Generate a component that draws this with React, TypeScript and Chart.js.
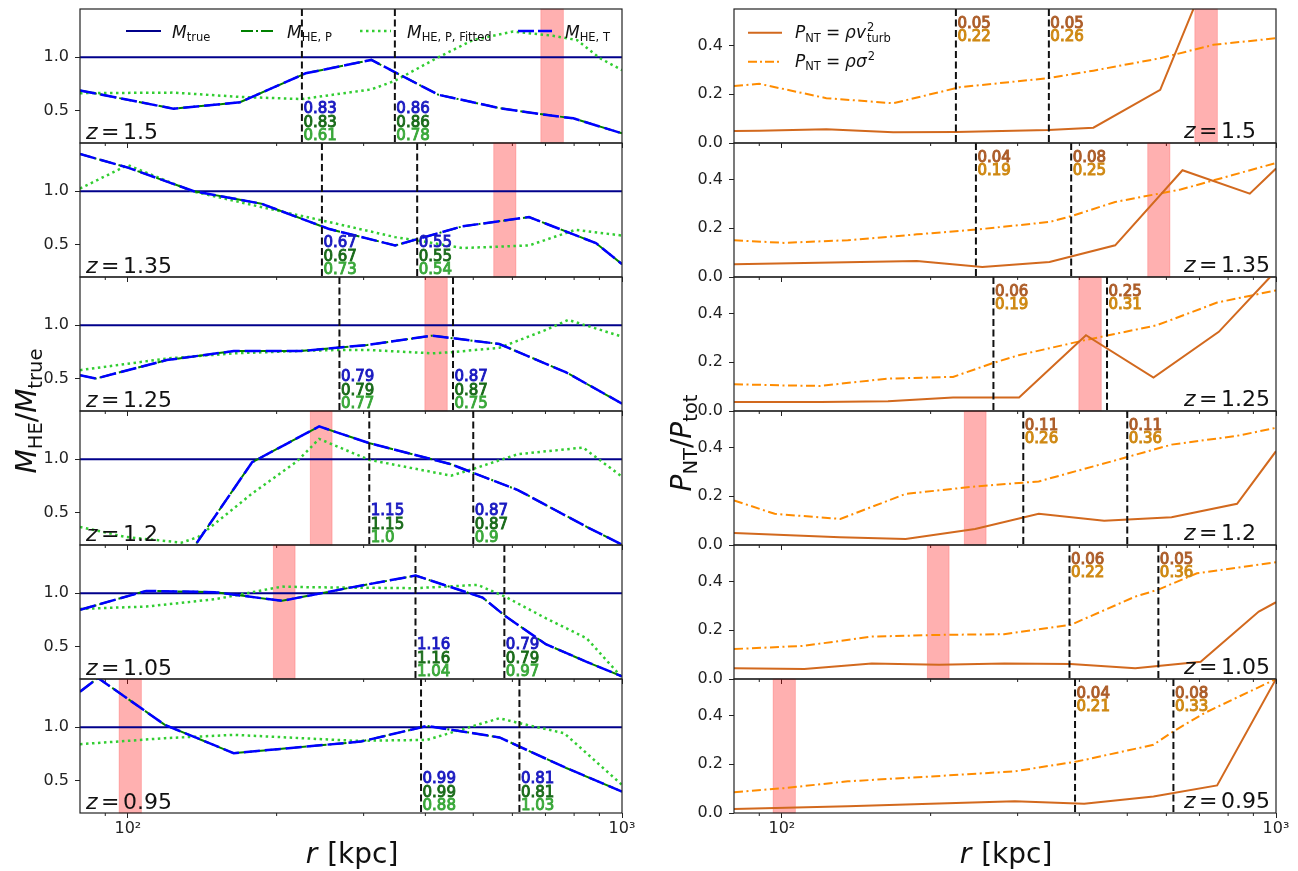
import React, { useEffect, useRef } from 'react';
import { Chart, registerables } from 'chart.js';

Chart.register(...registerables);

const FAMILY = '"DejaVu Sans", "Liberation Sans", sans-serif';

// ---------------- data ----------------
const REDSHIFTS = ['1.5', '1.35', '1.25', '1.2', '1.05', '0.95'];
const R_RANGE = [80, 1000];
const X_TICKS = [100, 1000];
const X_TICK_LABELS = ['10²', '10³'];
const X_MINOR_TICKS = [90, 200, 300, 400, 500, 600, 700, 800, 900];
const MASS_RANGE = [0.2, 1.45];
const MASS_TICKS = [0.5, 1.0];
const PNT_RANGE = [0, 0.55];
const PNT_TICKS = [0, 0.2, 0.4];
const M_TRUE = [[80, 1], [1000, 1]];

// characteristic radii (dashed lines) and shaded bands per redshift
const R_MARKERS = [[225, 347], [247, 385], [268, 455], [308, 500], [382, 578], [392, 620]];
const R_BANDS = [[685, 761], [550, 610], [399, 443], [234, 259], [197, 218], [96, 106.5]];

// annotation values: [M_HE,T, M_HE,P, M_HE,P,Fitted] at each marker
const MASS_LABELS = [
  [['0.83', '0.83', '0.61'], ['0.86', '0.86', '0.78']],
  [['0.67', '0.67', '0.73'], ['0.55', '0.55', '0.54']],
  [['0.79', '0.79', '0.77'], ['0.87', '0.87', '0.75']],
  [['1.15', '1.15', '1.0'], ['0.87', '0.87', '0.9']],
  [['1.16', '1.16', '1.04'], ['0.79', '0.79', '0.97']],
  [['0.99', '0.99', '0.88'], ['0.81', '0.81', '1.03']],
];
// annotation values: [rho v_turb^2, rho sigma^2] at each marker
const PNT_LABELS = [
  [['0.05', '0.22'], ['0.05', '0.26']],
  [['0.04', '0.19'], ['0.08', '0.25']],
  [['0.06', '0.19'], ['0.25', '0.31']],
  [['0.11', '0.26'], ['0.11', '0.36']],
  [['0.06', '0.22'], ['0.05', '0.36']],
  [['0.04', '0.21'], ['0.08', '0.33']],
];

// M_HE / M_true  (M_HE,T and M_HE,P coincide)
const MHE_Z150 = [[80, 0.69], [123.6, 0.52], [168.6, 0.58], [229, 0.85], [311, 0.975], [425, 0.65], [566, 0.525], [682, 0.47], [797, 0.43], [1000, 0.29]];
const MHE_Z135 = [[80, 1.347], [100, 1.22], [136, 1.0], [186.3, 0.884], [254.5, 0.65], [347.5, 0.494], [474.9, 0.672], [648.3, 0.759], [885.6, 0.516], [1000, 0.32]];
const MHE_Z125 = [[80, 0.534], [86.2, 0.503], [119.8, 0.675], [163.7, 0.759], [223.5, 0.759], [305.2, 0.816], [413.2, 0.903], [564.6, 0.825], [771, 0.56], [1000, 0.269]];
const MHE_Z120 = [[130.5, 0.06], [178.4, 0.972], [243.8, 1.306], [307.9, 1.15], [450.7, 0.953], [615.6, 0.7125], [848.4, 0.369], [1000, 0.203]];
const MHE_Z105 = [[80, 0.845], [108.9, 1.022], [150, 1.01], [205, 0.929], [280, 1.05], [382.3, 1.165], [522.2, 0.96], [579.4, 0.79], [701, 0.525], [848, 0.36], [1000, 0.224]];
const MHE_Z095 = [[80, 1.332], [87, 1.46], [118.8, 1.022], [163.7, 0.758], [296, 0.866], [403, 1.012], [565, 0.905], [771, 0.62], [1000, 0.40]];

// M_HE,P,Fitted / M_true
const FIT_Z150 = [[80, 0.665], [123.6, 0.67], [168.6, 0.63], [225, 0.61], [311, 0.70], [347, 0.78], [425, 1.0], [499, 1.16], [602, 1.24], [725, 1.2], [811, 1.16], [903, 0.99], [1000, 0.88]];
const FIT_Z135 = [[80, 1.025], [100, 1.244], [135, 1.0], [186, 0.853], [247, 0.728], [347.5, 0.572], [386, 0.54], [475, 0.47], [648, 0.494], [805, 0.64], [1000, 0.587]];
const FIT_Z125 = [[80, 0.581], [120, 0.69], [164, 0.738], [223, 0.76], [268, 0.77], [305, 0.77], [413, 0.738], [455, 0.75], [565, 0.79], [701, 0.956], [778, 1.05], [1000, 0.894]];
const FIT_Z120 = [[80, 0.369], [99, 0.275], [128.4, 0.222], [138.8, 0.275], [178.4, 0.68], [219.6, 0.978], [243.8, 1.19], [308, 0.994], [450.7, 0.847], [500, 0.91], [615.6, 1.047], [834, 1.109], [1000, 0.8375]];
const FIT_Z105 = [[80, 0.854], [109, 0.876], [150, 0.944], [205, 1.062], [235, 1.056], [382, 1.047], [510, 1.078], [579, 0.97], [701, 0.767], [848, 0.58], [1000, 0.214]];
const FIT_Z095 = [[80, 0.842], [119, 0.898], [164, 0.929], [290, 0.873], [403, 0.882], [565, 1.084], [621, 1.037], [764, 0.944], [1000, 0.463]];

// P_NT / P_tot with P_NT = rho v_turb^2
const TURB_Z150 = [[80, 0.049], [90, 0.05], [123, 0.056], [168, 0.044], [225, 0.045], [346, 0.053], [427, 0.063], [583, 0.218], [790, 0.87], [1000, 0.95]];
const TURB_Z135 = [[80, 0.052], [187.5, 0.066], [254.4, 0.041], [348, 0.062], [472.6, 0.13], [646.7, 0.438], [885, 0.342], [1000, 0.445]];
const TURB_Z125 = [[80, 0.037], [120, 0.037], [164, 0.04], [222, 0.055], [302, 0.055], [412.5, 0.311], [565, 0.137], [766, 0.325], [971, 0.548], [1000, 0.58]];
const TURB_Z120 = [[80, 0.049], [131, 0.032], [178, 0.025], [246, 0.066], [331, 0.128], [449, 0.10], [614.6, 0.114], [834, 0.169], [1000, 0.385]];
const TURB_Z105 = [[80, 0.044], [111, 0.041], [152, 0.064], [208, 0.058], [282, 0.064], [384, 0.062], [519, 0.044], [704, 0.071], [923, 0.277], [1000, 0.315]];
const TURB_Z095 = [[80, 0.016], [136, 0.028], [200, 0.038], [296, 0.048], [409, 0.038], [565, 0.068], [760, 0.113], [1000, 0.55]];

// P_NT / P_tot with P_NT = rho sigma^2
const SIG_Z150 = [[80, 0.234], [90, 0.243], [123, 0.184], [168, 0.163], [229, 0.229], [346, 0.266], [427, 0.297], [583, 0.348], [747, 0.403], [1000, 0.43]];
const SIG_Z135 = [[80, 0.151], [101, 0.14], [136, 0.151], [187.5, 0.175], [247, 0.1945], [348, 0.226], [384, 0.249], [472.6, 0.308], [641, 0.359], [1000, 0.468]];
const SIG_Z125 = [[80, 0.11], [101, 0.105], [119.6, 0.103], [163.7, 0.133], [222, 0.14], [267.7, 0.197], [301.5, 0.229], [409, 0.29], [574, 0.352], [760, 0.445], [1000, 0.495]];
const SIG_Z120 = [[80, 0.183], [96.7, 0.128], [131.3, 0.107], [178.2, 0.21], [245.9, 0.24], [331, 0.261], [500, 0.361], [614.6, 0.412], [834, 0.448], [1000, 0.481]];
const SIG_Z105 = [[80, 0.123], [110.8, 0.136], [151.6, 0.174], [207.6, 0.181], [281.6, 0.184], [384, 0.222], [518.7, 0.338], [576, 0.366], [692, 0.434], [1000, 0.479]];
const SIG_Z095 = [[80, 0.085], [101, 0.102], [136, 0.13], [200.6, 0.15], [296, 0.171], [397, 0.212], [565, 0.28], [620, 0.335], [716, 0.41], [1000, 0.55]];

const MHE_ROWS = [MHE_Z150, MHE_Z135, MHE_Z125, MHE_Z120, MHE_Z105, MHE_Z095];
const FIT_ROWS = [FIT_Z150, FIT_Z135, FIT_Z125, FIT_Z120, FIT_Z105, FIT_Z095];
const TURB_ROWS = [TURB_Z150, TURB_Z135, TURB_Z125, TURB_Z120, TURB_Z105, TURB_Z095];
const SIG_ROWS = [SIG_Z150, SIG_Z135, SIG_Z125, SIG_Z120, SIG_Z105, SIG_Z095];

// ---------------- layout / style ----------------
const PANEL_TOP = 9;
const PANEL_H = 134;
const PLOT_W = 542;
const PAD_TOP = 6;
const PAD_RIGHT = 20;
const COLS = [
  { canvasLeft: 0, axisW: 80 },
  { canvasLeft: 650, axisW: 84 },
];

const C_TRUE = '#00008b';
const C_HEP = '#008000';
const C_FIT = '#32cd32';
const C_HET = '#0000ff';
const C_TURB = '#d2691e';
const C_SIG = '#ff8c00';
const MASS_LABEL_COLORS = ['#1a1ac0', '#1a6b1a', '#3aa83a'];
const PNT_LABEL_COLORS = ['#ad5e2a', '#cf8914'];

type Seg = { t: string; s: number; i?: boolean; dy?: number; g?: number; k?: boolean };

function fontOf(s: Seg) {
  return `${s.i ? 'italic ' : ''}${s.s}px ${FAMILY}`;
}
function richWidth(ctx: CanvasRenderingContext2D, segs: Seg[]) {
  let w = 0;
  for (const s of segs) {
    ctx.font = fontOf(s);
    const sw = ctx.measureText(s.t).width + (s.g || 0);
    if (!s.k) w += sw;
  }
  return w;
}
function drawRich(ctx: CanvasRenderingContext2D, x: number, y: number, segs: Seg[], color: string) {
  let cx = x;
  ctx.fillStyle = color;
  ctx.textAlign = 'left';
  ctx.textBaseline = 'alphabetic';
  for (const s of segs) {
    ctx.font = fontOf(s);
    const g = s.g || 0;
    ctx.fillText(s.t, cx + g, y + (s.dy || 0));
    const w = ctx.measureText(s.t).width + g;
    if (!s.k) cx += w;
  }
  return cx - x;
}

const pts = (arr: number[][]) => arr.map(([x, y]) => ({ x, y }));

function hline(ctx: CanvasRenderingContext2D, x0: number, y0: number, x1: number, y1: number) {
  ctx.beginPath();
  ctx.moveTo(x0, y0);
  ctx.lineTo(x1, y1);
  ctx.stroke();
}

function makeDeco(row: number, col: number) {
  return {
    id: `deco_${row}_${col}`,
    beforeDatasetsDraw(chart: any) {
      const { ctx, chartArea: ca } = chart;
      const xs = chart.scales.x;
      const [b0, b1] = R_BANDS[row];
      const x0 = xs.getPixelForValue(b0);
      const x1 = xs.getPixelForValue(b1);
      ctx.save();
      ctx.fillStyle = 'rgba(255,0,0,0.31)';
      ctx.fillRect(x0, ca.top, x1 - x0, ca.bottom - ca.top);
      ctx.strokeStyle = 'rgba(255,0,0,0.2)';
      ctx.lineWidth = 1;
      ctx.strokeRect(x0, ca.top, x1 - x0, ca.bottom - ca.top);
      ctx.restore();
    },
    afterDatasetsDraw(chart: any) {
      const { ctx, chartArea: ca } = chart;
      const xs = chart.scales.x;
      const ox = col === 0 ? 80 : 734;
      const P = (px: number, py: number) => [ca.left + px - ox, ca.top + py - 9];
      ctx.save();
      // dashed markers
      ctx.strokeStyle = '#111';
      ctx.lineWidth = 2;
      ctx.setLineDash([7, 3.5]);
      const mx = R_MARKERS[row].map((r) => xs.getPixelForValue(r));
      mx.forEach((x) => hline(ctx, x, ca.top, x, ca.bottom));
      ctx.setLineDash([]);
      // annotations
      ctx.textAlign = 'left';
      ctx.textBaseline = 'alphabetic';
      if (col === 0) {
        ctx.font = `15px ${FAMILY}`;
        MASS_LABELS[row].forEach((lab, j) => {
          const base = [ca.bottom - 30, ca.bottom - 16.3, ca.bottom - 3];
          lab.forEach((t, k) => {
            ctx.fillStyle = MASS_LABEL_COLORS[k];
            ctx.strokeStyle = MASS_LABEL_COLORS[k];
            ctx.lineWidth = 0.9;
            ctx.fillText(t, mx[j] + 1.5, base[k]);
            ctx.strokeText(t, mx[j] + 1.5, base[k]);
          });
        });
      } else {
        ctx.font = `15px ${FAMILY}`;
        PNT_LABELS[row].forEach((lab, j) => {
          const base = [ca.top + 18.5, ca.top + 32];
          lab.forEach((t, k) => {
            ctx.fillStyle = PNT_LABEL_COLORS[k];
            ctx.strokeStyle = PNT_LABEL_COLORS[k];
            ctx.lineWidth = 1;
            ctx.fillText(t, mx[j] + 1.5, base[k]);
            ctx.strokeText(t, mx[j] + 1.5, base[k]);
          });
        });
      }
      // redshift label
      const zSegs: Seg[] = [
        { t: 'z', s: 22, i: true },
        { t: '=', s: 22, g: 3.5 },
        { t: REDSHIFTS[row], s: 22, g: 3.5 },
      ];
      if (col === 0) drawRich(ctx, ca.left + 6, ca.bottom - 4.5, zSegs, '#111');
      else drawRich(ctx, ca.left + 450, ca.bottom - 5.5, zSegs, '#111');

      // frame
      ctx.strokeStyle = '#222';
      ctx.lineWidth = 1.2;
      ctx.strokeRect(ca.left, ca.top, ca.right - ca.left, ca.bottom - ca.top);
      // minor x ticks
      ctx.lineWidth = 1;
      X_MINOR_TICKS.forEach((v) => {
        const x = xs.getPixelForValue(v);
        hline(ctx, x, ca.bottom, x, ca.bottom + 3);
      });

      // legends
      if (row === 0 && col === 0) {
        const items = [
          { x0: 126, x1: 161, tx: 172, c: C_TRUE, dash: [], w: 2, sub: 'true' },
          { x0: 241, x1: 274, tx: 287, c: C_HEP, dash: [12, 3, 2, 3], w: 2, sub: 'HE, P' },
          { x0: 360, x1: 391, tx: 407, c: C_FIT, dash: [2.5, 3.5], w: 2.5, sub: 'HE, P, Fitted' },
          { x0: 518, x1: 552, tx: 565, c: C_HET, dash: [16, 4], w: 2.5, sub: 'HE, T' },
        ];
        items.forEach((it) => {
          const [a, y] = P(it.x0, 31);
          const [b] = P(it.x1, 31);
          ctx.strokeStyle = it.c;
          ctx.lineWidth = it.w;
          ctx.setLineDash(it.dash);
          hline(ctx, a, y, b, y);
          ctx.setLineDash([]);
          const [tx, ty] = P(it.tx, 37.5);
          drawRich(ctx, tx, ty, [
            { t: 'M', s: 17, i: true },
            { t: it.sub, s: 11.5, dy: 3.5 },
          ], '#111');
        });
      }
      if (row === 0 && col === 1) {
        const items = [
          { y: 32.7, ty: 38.3, c: C_TURB, dash: [], sq: 'v', turb: true },
          { y: 61.7, ty: 66.7, c: C_SIG, dash: [9, 3, 2, 3], sq: 'σ', turb: false },
        ];
        items.forEach((it) => {
          const [a, y] = P(748, it.y);
          const [b] = P(782, it.y);
          ctx.strokeStyle = it.c;
          ctx.lineWidth = 2;
          ctx.setLineDash(it.dash);
          hline(ctx, a, y, b, y);
          ctx.setLineDash([]);
          const [tx, ty] = P(795, it.ty);
          const segs: Seg[] = [
            { t: 'P', s: 17, i: true },
            { t: 'NT', s: 11.5, dy: 3.5 },
            { t: '=', s: 17, g: 5 },
            { t: 'ρ', s: 17, i: true, g: 5 },
            { t: it.sq, s: 17, i: true },
          ];
          if (it.turb) {
            segs.push({ t: '2', s: 11.5, dy: -7, k: true, g: 1 });
            segs.push({ t: 'turb', s: 11.5, dy: 4, g: 1 });
          } else {
            segs.push({ t: '2', s: 11.5, dy: -7, g: 1 });
          }
          drawRich(ctx, tx, ty, segs, '#111');
        });
      }
      ctx.restore();
    },
  };
}

function lineDs(data: number[][], color: string, width: number, dash: number[], order: number) {
  return {
    data: pts(data),
    borderColor: color,
    backgroundColor: color,
    borderWidth: width,
    borderDash: dash,
    borderCapStyle: 'butt',
    pointRadius: 0,
    tension: 0,
    fill: false,
    order,
  };
}

function buildConfig(row: number, col: number) {
  const bottomRow = row === 5;
  const xH = bottomRow ? 36 : 10;
  const axisW = COLS[col].axisW;
  const datasets =
    col === 0
      ? [
          lineDs(MHE_ROWS[row], C_HET, 2.5, [16, 5], 0),
          lineDs(MHE_ROWS[row], C_HEP, 2, [12, 3, 2, 3], 1),
          lineDs(FIT_ROWS[row], C_FIT, 2.5, [2.5, 3.5], 2),
          lineDs(M_TRUE, C_TRUE, 2, [], 3),
        ]
      : [
          lineDs(TURB_ROWS[row], C_TURB, 2, [], 0),
          lineDs(SIG_ROWS[row], C_SIG, 2, [9, 3.5, 2, 3.5], 1),
        ];
  const yRange = col === 0 ? MASS_RANGE : PNT_RANGE;
  const yTicks = col === 0 ? MASS_TICKS : PNT_TICKS;
  return {
    type: 'line',
    data: { datasets },
    options: {
      responsive: false,
      animation: false,
      devicePixelRatio: 1,
      events: [],
      parsing: true,
      layout: { padding: { top: PAD_TOP, right: PAD_RIGHT, left: 0, bottom: 0 } },
      plugins: { legend: { display: false }, tooltip: { enabled: false }, title: { display: false } },
      scales: {
        x: {
          type: 'logarithmic',
          position: 'bottom',
          min: R_RANGE[0],
          max: R_RANGE[1],
          afterBuildTicks: (s: any) => {
            s.ticks = X_TICKS.map((v) => ({ value: v, major: true }));
          },
          afterFit: (s: any) => {
            s.height = xH;
            s.paddingLeft = 0;
            s.paddingRight = 0;
          },
          ticks: {
            display: bottomRow,
            autoSkip: false,
            maxRotation: 0,
            padding: 1,
            color: '#222',
            font: { family: FAMILY, size: 16 },
            callback: (v: any) => X_TICK_LABELS[X_TICKS.indexOf(Number(v))] ?? '',
          },
          grid: { display: true, drawOnChartArea: false, drawTicks: true, tickLength: 5, color: '#222', tickWidth: 1 },
          border: { display: false },
        },
        y: {
          type: 'linear',
          position: 'left',
          min: yRange[0],
          max: yRange[1],
          afterBuildTicks: (s: any) => {
            s.ticks = yTicks.map((v) => ({ value: v }));
          },
          afterFit: (s: any) => {
            s.width = axisW;
            s.paddingTop = 0;
            s.paddingBottom = 0;
          },
          ticks: {
            padding: 6,
            color: '#222',
            font: { family: FAMILY, size: 16 },
            callback: (v: any) => Number(v).toFixed(1),
          },
          grid: { display: true, drawOnChartArea: false, drawTicks: true, tickLength: 5, color: '#222', tickWidth: 1 },
          border: { display: false },
        },
      },
    },
    plugins: [makeDeco(row, col)],
  };
}

function drawTitles(ctx: CanvasRenderingContext2D) {
  ctx.clearRect(0, 0, 1298, 871);
  const yl: Seg[] = [
    { t: 'M', s: 28, i: true },
    { t: 'HE', s: 19.5, dy: 6 },
    { t: '/', s: 28 },
    { t: 'M', s: 28, i: true },
    { t: 'true', s: 19.5, dy: 6 },
  ];
  const yr: Seg[] = [
    { t: 'P', s: 28, i: true },
    { t: 'NT', s: 19.5, dy: 6 },
    { t: '/', s: 28 },
    { t: 'P', s: 28, i: true },
    { t: 'tot', s: 19.5, dy: 6 },
  ];
  const xl: Seg[] = [
    { t: 'r', s: 28, i: true },
    { t: '[kpc]', s: 28, g: 10 },
  ];
  const rot = (segs: Seg[], bx: number, cy: number) => {
    const w = richWidth(ctx, segs);
    ctx.save();
    ctx.translate(bx, cy);
    ctx.rotate(-Math.PI / 2);
    drawRich(ctx, -w / 2, 0, segs, '#111');
    ctx.restore();
  };
  rot(yl, 36, 411);
  rot(yr, 691, 443);
  const wx = richWidth(ctx, xl);
  drawRich(ctx, 352 - wx / 2, 863, xl, '#111');
  drawRich(ctx, 1006 - wx / 2, 863, xl, '#111');
}

const PANELS: { row: number; col: number }[] = [];
for (let r = 0; r < 6; r++) for (let c = 0; c < 2; c++) PANELS.push({ row: r, col: c });

export default function App() {
  const canvasRefs = useRef<(HTMLCanvasElement | null)[]>([]);
  const overlayRef = useRef<HTMLCanvasElement | null>(null);

  useEffect(() => {
    const charts: Chart[] = [];
    PANELS.forEach((p, idx) => {
      const cv = canvasRefs.current[idx];
      if (!cv) return;
      charts.push(new Chart(cv, buildConfig(p.row, p.col) as any));
    });
    const ov = overlayRef.current;
    if (ov) {
      const ctx = ov.getContext('2d');
      if (ctx) drawTitles(ctx);
    }
    return () => charts.forEach((c) => c.destroy());
  }, []);

  return (
    <div style={{ position: 'fixed', left: 0, top: 0, width: 1298, height: 871, background: '#fff', overflow: 'hidden' }}>
      {PANELS.map((p, idx) => {
        const geom = COLS[p.col];
        const w = geom.axisW + PLOT_W + PAD_RIGHT;
        const xH = p.row === 5 ? 36 : 10;
        const h = PAD_TOP + PANEL_H + xH;
        const top = PANEL_TOP + p.row * PANEL_H - PAD_TOP;
        return (
          <canvas
            key={idx}
            ref={(el) => {
              canvasRefs.current[idx] = el;
            }}
            width={w}
            height={h}
            style={{ position: 'absolute', left: geom.canvasLeft, top, width: w, height: h }}
          />
        );
      })}
      <canvas
        ref={overlayRef}
        width={1298}
        height={871}
        style={{ position: 'absolute', left: 0, top: 0, width: 1298, height: 871, pointerEvents: 'none' }}
      />
    </div>
  );
}
